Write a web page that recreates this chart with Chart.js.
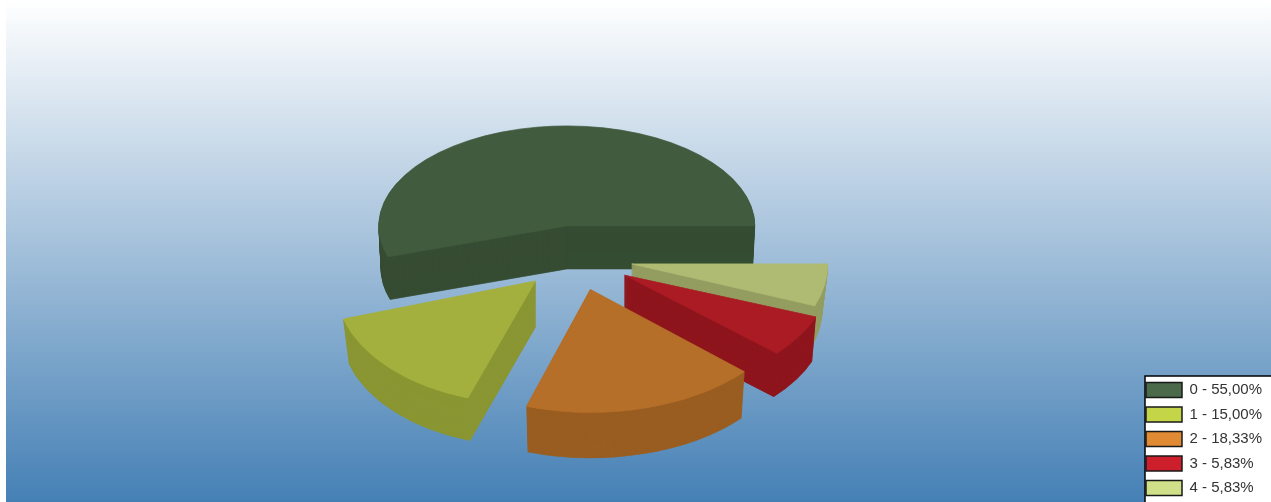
<!DOCTYPE html>
<html>
<head>
<meta charset="utf-8">
<title>Pie</title>
<script src="https://cdn.jsdelivr.net/npm/chart.js@4/dist/chart.umd.min.js"></script>
<style>
  html, body { margin: 0; padding: 0; background: #fff; overflow: hidden; }
  canvas { display: block; }
</style>
</head>
<body>
<canvas id="pieChart" width="1271" height="502"></canvas>
<script>
// Chart data
const categories = ['0', '1', '2', '3', '4'];
const percentages = [55.00, 15.00, 18.33, 5.83, 5.83];

// Colours per slice: legend swatch, lit top face, shaded wall
const swatchColors = ['#4a6a49', '#c4d648', '#e08a33', '#cc1f2b', '#d0e088'];
const topColors = ['#415b3f', '#a4b03d', '#b56f29', '#aa1b24', '#afba72'];
const wallColors = ['#364c33', '#8a9633', '#9a5e22', '#8f161e', '#949d60'];

// Fake 3D settings, the original has some perspective so each slice gets its own scale
const drawOrder = [0, 4, 3, 1, 2];
const scaleX = [0.94, 1.0, 1.035, 1.025, 0.98];
const scaleY = [0.5, 0.615, 0.615, 0.585, 0.585];
const shearX = [0, -0.05, 0, 0, 0];
const wallDepth = [43, 46, 48, 45, 46];
const wallTaper = [0.012, 0.03, 0.02, 0.02, 0.03];
const explode = 57;
const tilt = 0.57;

// Legend box corner, it overlaps the bottom right of the plot
const legendBoxLeft = 1145;
const legendBoxTop = 376;

const legendLabels = categories.map((c, i) => c + ' - ' + percentages[i].toFixed(2).replace('.', ',') + '%');

function drawArcWith(ctx, arc, color) {
    const saved = arc.options;
    // same colour border so the stacked layers leave no seams
    arc.options = Object.assign({}, saved, { backgroundColor: color, borderColor: color, borderWidth: 1 });
    arc.draw(ctx);
    arc.options = saved;
}

const pie3d = {
    id: 'pie3d',
    afterLayout(chart) {
        // rows sit further left and lower than the default right legend
        const legend = chart.legend;
        legend.left = legendBoxLeft + 1 - legend.options.labels.padding;
        legend.bottom += 3;
    },
    beforeDraw(chart) {
        const { ctx, width, height } = chart;
        // Background gradient, leaves a white strip on the left
        const grad = ctx.createLinearGradient(0, 0, 0, height);
        grad.addColorStop(0, '#ffffff');
        grad.addColorStop(1, '#4580b5');
        ctx.fillStyle = grad;
        ctx.fillRect(6, 0, width - 6, height);

        // Legend box
        ctx.fillStyle = '#ffffff';
        ctx.fillRect(legendBoxLeft, legendBoxTop, width - legendBoxLeft, height - legendBoxTop);
        ctx.strokeStyle = '#000000';
        ctx.lineWidth = 1.5;
        ctx.beginPath();
        ctx.moveTo(legendBoxLeft, height);
        ctx.lineTo(legendBoxLeft, legendBoxTop);
        ctx.lineTo(width, legendBoxTop);
        ctx.stroke();
    },
    beforeDatasetsDraw(chart) {
        const { ctx } = chart;
        const arcs = chart.getDatasetMeta(0).data;
        drawOrder.forEach(i => {
            const arc = arcs[i];
            const mid = (arc.startAngle + arc.endAngle) / 2;
            const shiftX = -Math.cos(mid) * explode;
            const shiftY = Math.sin(mid) * explode * tilt;
            for (let d = wallDepth[i]; d >= 0; d--) {
                const shrink = 1 - wallTaper[i] * d / wallDepth[i];
                ctx.save();
                ctx.translate(arc.x + shiftX, arc.y + shiftY + d);
                ctx.transform(1, 0, shearX[i], 1, 0, 0);
                ctx.scale(-scaleX[i] * shrink, scaleY[i] * shrink);
                ctx.translate(-arc.x, -arc.y);
                drawArcWith(ctx, arc, d === 0 ? topColors[i] : wallColors[i]);
                ctx.restore();
            }
        });
        return false;
    }
};

new Chart(document.getElementById('pieChart'), {
    type: 'pie',
    data: {
        labels: legendLabels,
        datasets: [{
            data: percentages,
            backgroundColor: swatchColors,
            borderWidth: 0,
            radius: 200
        }]
    },
    options: {
        responsive: false,
        animation: false,
        rotation: 270,
        layout: { padding: { left: 16, top: 14 } },
        plugins: {
            tooltip: { enabled: false },
            legend: {
                position: 'right',
                align: 'end',
                labels: {
                    boxWidth: 36,
                    boxHeight: 15,
                    padding: 9.5,
                    color: '#333333',
                    font: { family: '"Liberation Sans", Arial, sans-serif', size: 15 },
                    generateLabels: chart => legendLabels.map((text, i) => ({
                        text,
                        index: i,
                        fillStyle: swatchColors[i],
                        strokeStyle: '#1a1a1a',
                        lineWidth: 1.5,
                        fontColor: '#333333'
                    }))
                }
            }
        }
    },
    plugins: [pie3d]
});
</script>
</body>
</html>
